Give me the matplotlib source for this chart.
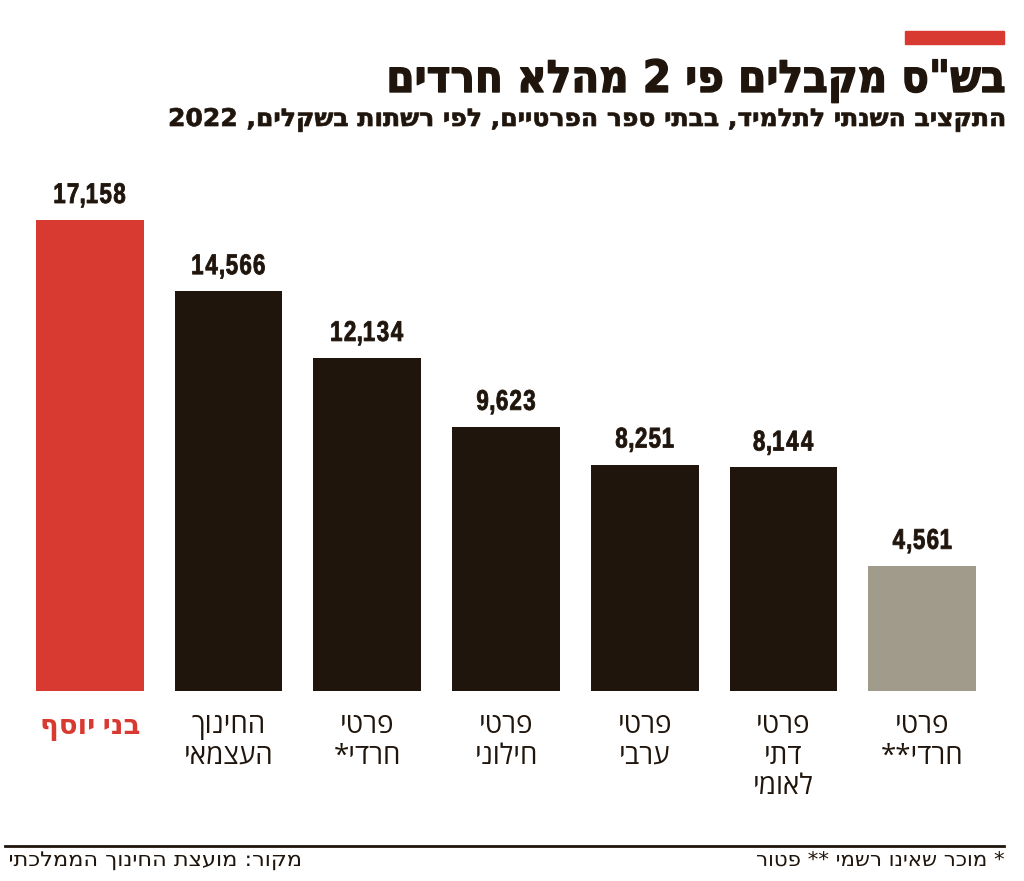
import re
import matplotlib
matplotlib.use("Agg")
import matplotlib.pyplot as plt
from matplotlib.patches import Rectangle, PathPatch
from matplotlib.path import Path
from matplotlib.textpath import TextPath
from matplotlib.font_manager import FontProperties
from matplotlib.transforms import Affine2D

# ---- data ----
categories = ["בני יוסף", "החינוך\nהעצמאי", "פרטי\nחרדי*", "פרטי\nחילוני",
              "פרטי\nערבי", "פרטי\nדתי\nלאומי", "פרטי\nחרדי**"]
values = [17158, 14566, 12134, 9623, 8251, 8144, 4561]
value_labels = ["17,158", "14,566", "12,134", "9,623", "8,251", "8,144", "4,561"]
title = 'בש"ס מקבלים פי 2 מהלא חרדים'
subtitle = "התקציב השנתי לתלמיד, בבתי ספר הפרטיים, לפי רשתות בשקלים, 2022"
footnote = "* מוכר שאינו רשמי ** פטור"
source = "מקור: מועצת החינוך הממלכתי"

RED = "#d83a31"
DARK = "#1f150c"
GRAY = "#a09b8b"
bar_colors = [RED, DARK, DARK, DARK, DARK, DARK, GRAY]


def heb(s):
    """Convert logical-order Hebrew to visual order (per line)."""
    out = []
    for line in s.split("\n"):
        r = line[::-1]
        r = re.sub(r"[0-9][0-9,.]*[0-9]|[0-9]", lambda m: m.group()[::-1], r)
        out.append(r)
    return "\n".join(out)


W, H = 1024, 881
DPI = 100
K = DPI / 72.0
fig = plt.figure(figsize=(W / DPI, H / DPI), dpi=DPI)
fig.patch.set_facecolor("white")


def path_text(s, x_px, y_top_px, size_pt, family, weight, color,
              ha="left", sx=1.0, width=None, stroke=0.0):
    """Draw text as a path; y_top_px is the baseline measured from the top."""
    tp = TextPath((0, 0), s, size=size_pt,
                  prop=FontProperties(family=family, weight=weight))
    ext = tp.get_extents()
    if width is not None:
        sx = width / (ext.width * K)
    if ha == "right":
        x0 = x_px - ext.x1 * K * sx
    elif ha == "center":
        x0 = x_px - (ext.x0 + ext.x1) / 2 * K * sx
    else:
        x0 = x_px - ext.x0 * K * sx
    y0 = H - y_top_px
    tr = Affine2D().scale(K * sx, K).translate(x0, y0)
    fig.add_artist(PathPatch(tp, transform=tr, facecolor=color,
                             edgecolor=color if stroke > 0 else "none",
                             lw=stroke, joinstyle="round"))


def tracked_text(s, x_center_px, y_top_px, size_pt, family, weight, color,
                 sx=0.8, gap_px=2.5, stroke=0.0):
    """Condensed text with explicit spacing between glyph ink boxes."""
    prop = FontProperties(family=family, weight=weight)
    pieces = []
    cursor = 0.0
    for ch in s:
        tp = TextPath((0, 0), ch, size=size_pt, prop=prop)
        ext = tp.get_extents()
        w = ext.width * K * sx
        pieces.append((tp, cursor - ext.x0 * K * sx))
        cursor += w + gap_px
    total = cursor - gap_px
    start = x_center_px - total / 2
    y0 = H - y_top_px
    for tp, off in pieces:
        tr = Affine2D().scale(K * sx, K).translate(start + off, y0)
        fig.add_artist(PathPatch(tp, transform=tr, facecolor=color,
                                 edgecolor=color if stroke > 0 else "none",
                                 lw=stroke, joinstyle="round"))


# axes: bar bottom at y=691px, scale 471px per 17158
px_per_unit = 471.0 / 17158
ax_top_px = 150
ax_bottom_px = 691
ymax = (ax_bottom_px - ax_top_px) / px_per_unit
left_px, right_px = 20.5, 991.5
ax = fig.add_axes([left_px / W, (H - ax_bottom_px) / H,
                   (right_px - left_px) / W, (ax_bottom_px - ax_top_px) / H])
x = list(range(len(values)))
ax.bar(x, values, width=108 / 139, color=bar_colors)
ax.set_xlim(-0.5, len(values) - 0.5)
ax.set_ylim(0, ymax)
ax.axis("off")

# value labels (condensed bold)
for xi, v, lab in zip(x, values, value_labels):
    px, py = ax.transData.transform((xi, v))
    tracked_text(lab, px, (H - py) - 17, 20.5, "Liberation Sans", "bold", DARK,
                 sx=0.78, gap_px=2.8, stroke=0.6)

# category labels
for xi, cat, c in zip(x, categories, bar_colors):
    red = c == RED
    ax.annotate(heb(cat), (xi, 0), xytext=(0, -15), textcoords="offset points",
                ha="center", va="top", fontsize=20,
                fontweight="bold" if red else "normal",
                family=["Open Sans", "DejaVu Sans"],
                color=RED if red else DARK, linespacing=1.13)

# top red marker
fig.patches.append(Rectangle((905 / W, 1 - 44 / H), 99 / W, 13 / H,
                             transform=fig.transFigure, color=RED))

path_text(heb(title), 1004, 92, 32, "DejaVu Sans", "bold", DARK,
          ha="right", width=614, stroke=1.0)
path_text(heb(subtitle), 1004, 126, 17.5, "DejaVu Sans", "bold", DARK,
          ha="right", width=834, stroke=0.5)

# footer line
fig.add_artist(plt.Line2D([5 / W, 1004 / W], [1 - 846 / H, 1 - 846 / H],
                          transform=fig.transFigure, color=DARK, lw=2))
path_text(heb(footnote), 1004, 866, 14.5, "DejaVu Sans", "normal", DARK,
          ha="right", width=247)
path_text(heb(source), 10, 866, 14.5, "DejaVu Sans", "normal", DARK,
          ha="left", width=290)

fig.savefig("out.png", dpi=DPI, facecolor="white")
